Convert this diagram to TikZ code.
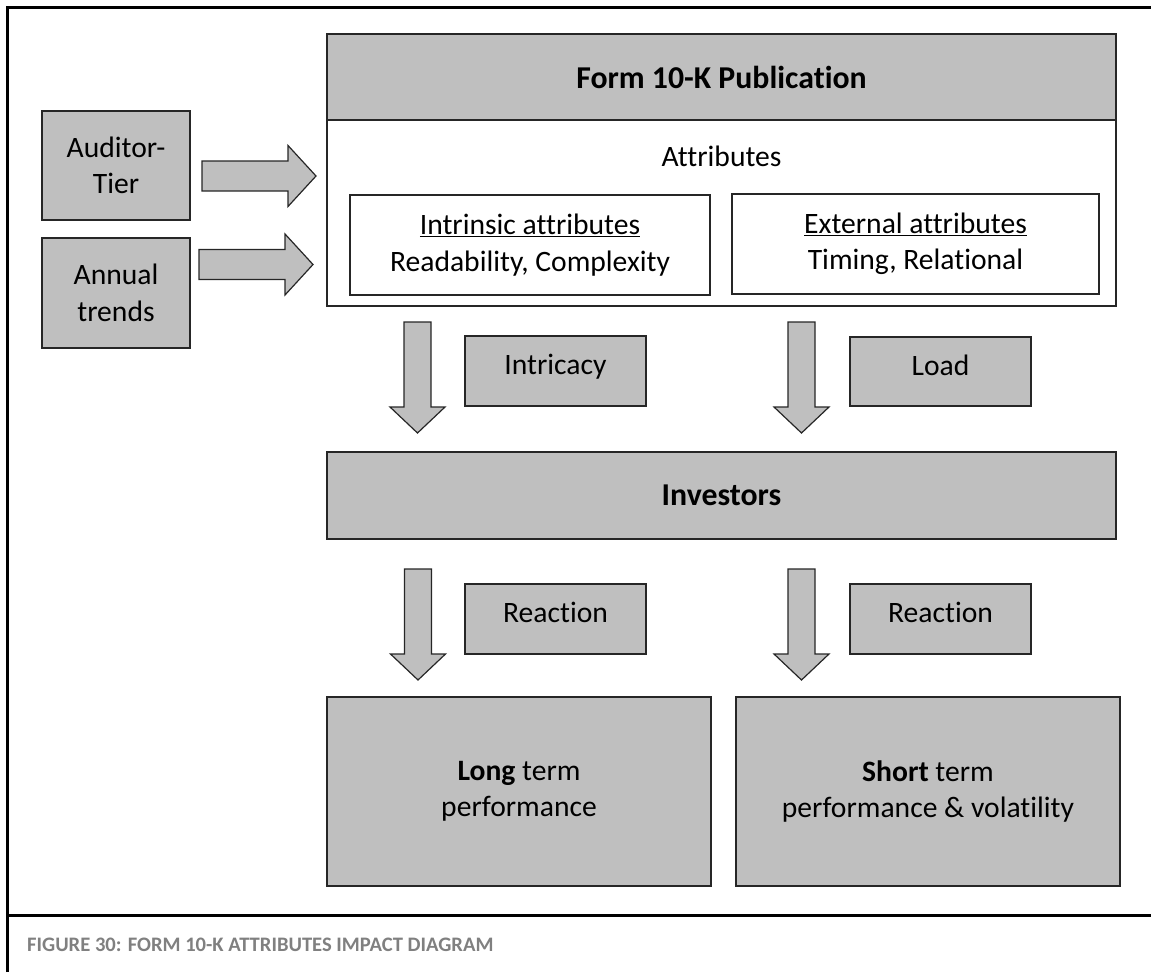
\documentclass[tikz,border=0pt]{standalone}
\usepackage{fontspec}
\setmainfont{Carlito}[Ligatures=NoCommon]
\definecolor{boxgray}{HTML}{BFBFBF}
\definecolor{capgray}{HTML}{808080}
\definecolor{edge}{HTML}{262626}
\begin{document}
\begin{tikzpicture}[x=1pt,y=-1pt,
  base/.style={draw=edge,line width=1.3pt,inner sep=0pt,align=center,font=\fontsize{29.6}{36.5}\selectfont},
  graybox/.style={base,fill=boxgray},
  whitebox/.style={base,fill=white},
  smallbox/.style={graybox,minimum width=181,minimum height=70,text height=20pt,text depth=13pt},
  hdr/.style={font=\fontsize{31.8}{38}\selectfont\bfseries},
  barrow/.style={draw=edge,line width=1.2pt,fill=boxgray,line join=miter},
  rarr/.pic={\draw[barrow] (0,-15)--(86,-15)--(86,-30.5)--(114,0)--(86,30.5)--(86,15)--(0,15)--cycle;},
  darr/.pic={\draw[barrow] (-13.5,0)--(13.5,0)--(13.5,85)--(27.5,85)--(0,111)--(-27.5,85)--(-13.5,85)--cycle;}
]
\useasboundingbox (0,0) rectangle (1151,972);
% frame
\draw[line width=3pt] (7,972) -- (7,7) -- (1151,7);
\draw[line width=3pt] (7,915) -- (1151,915);
% top group
\node[whitebox,minimum width=789,minimum height=186] (attr) at (721.5,213) {};
\node[graybox,hdr,minimum width=789,minimum height=86] (form) at (721.5,77) {Form 10-K Publication};
\node[font=\fontsize{29.6}{36.5}\selectfont,inner sep=0pt] (attrlbl) at (721.5,156) {Attributes};
\node[whitebox,minimum width=360,minimum height=100] (intr) at (530,245) {\underline{Intrinsic attributes}\\Readability, Complexity};
\node[whitebox,minimum width=367,minimum height=100] (ext) at (915.5,244) {\underline{External attributes}\\Timing, Relational};
% left inputs
\node[graybox,minimum width=148,minimum height=109] (aud) at (116,165.5) {Auditor-\\Tier};
\node[graybox,minimum width=148,minimum height=110] (ann) at (116,293) {Annual\\trends};
\pic (a1) at (202,176) {rarr};
\pic (a2) at (199,264.5) {rarr};
% middle
\pic (d1) at (417.5,322) {darr};
\pic (d2) at (801.5,322) {darr};
\node[smallbox] (intric) at (555.5,371) {Intricacy};
\node[smallbox,minimum height=69] (load) at (940.5,371.5) {Load};
\node[graybox,hdr,minimum width=789,minimum height=87] (inv) at (721.5,495.5) {Investors};
% lower
\pic (d3) at (418,569) {darr};
\pic (d4) at (801.5,569) {darr};
\node[smallbox] (react1) at (555.5,619) {Reaction};
\node[smallbox] (react2) at (940.5,619) {Reaction};
\node[graybox,minimum width=384,minimum height=189] (long) at (519,791.5) {\textbf{Long} term\\performance};
\node[graybox,minimum width=384,minimum height=189] (short) at (928,791.5) {\textbf{Short} term\\performance \& volatility};
% caption
\node[anchor=west,inner sep=0pt,text=capgray,font=\fontsize{20.6}{25}\selectfont\bfseries] (cap) at (27,945) {FIGURE 30: FORM 10-K ATTRIBUTES IMPACT DIAGRAM};
\end{tikzpicture}
\end{document}
